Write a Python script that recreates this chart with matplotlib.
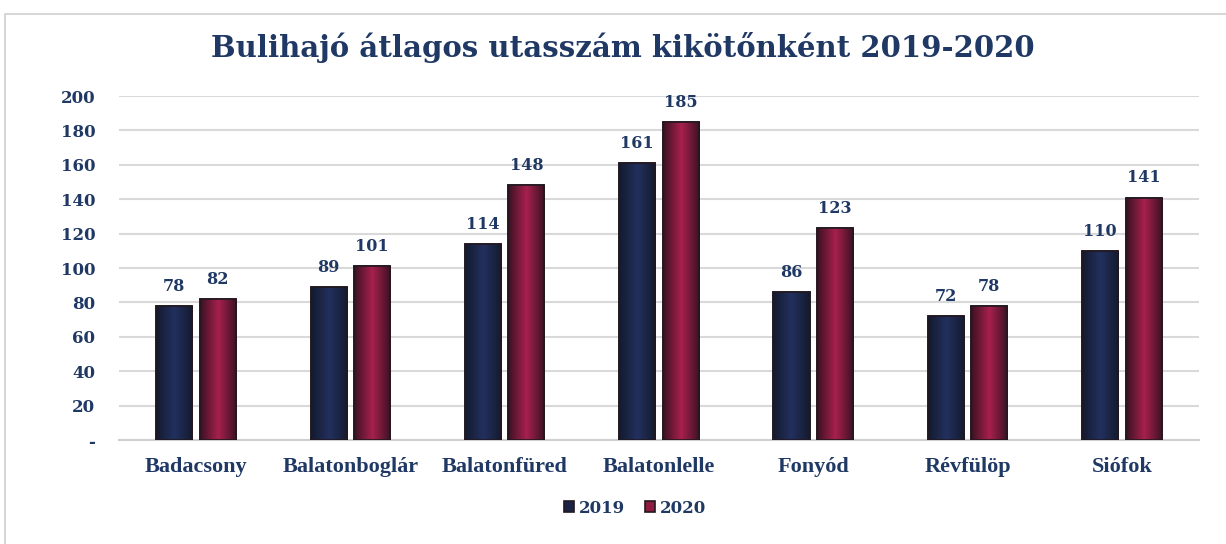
import matplotlib
matplotlib.use("Agg")
import matplotlib.pyplot as plt
import numpy as np
from matplotlib.patches import Rectangle
from matplotlib.colors import LinearSegmentedColormap

categories = ["Badacsony", "Balatonboglár", "Balatonfüred", "Balatonlelle", "Fonyód", "Révfülöp", "Siófok"]
v2019 = [78, 89, 114, 161, 86, 72, 110]
v2020 = [82, 101, 148, 185, 123, 78, 141]
series_names = ["2019", "2020"]
yticks = [0, 20, 40, 60, 80, 100, 120, 140, 160, 180, 200]
ytick_labels = ["-", "20", "40", "60", "80", "100", "120", "140", "160", "180", "200"]

navy = "#1f3864"
c2019 = "#1a2444"
c2020 = "#8e1a3e"
edge = "#221820"

fig = plt.figure(figsize=(12.26, 5.44), dpi=100)
fig.patch.set_facecolor("white")
fig.add_artist(Rectangle((0.004, -0.01), 1.0, 0.985, transform=fig.transFigure,
                         fill=False, edgecolor="#d0d0d0", linewidth=1.2))

ax = fig.add_axes([0.097, 0.191, 0.881, 0.6325])
x = np.arange(len(categories))
w = 0.234
off = 0.141
b1 = ax.bar(x - off, v2019, w, color=c2019, edgecolor=edge, linewidth=1.2, label=series_names[0], zorder=3)
b2 = ax.bar(x + off, v2020, w, color=c2020, edgecolor=edge, linewidth=1.2, label=series_names[1], zorder=3)

cm1 = LinearSegmentedColormap.from_list("g1", ["#141a2e", "#22305e", "#141a2e"])
cm2 = LinearSegmentedColormap.from_list("g2", ["#3a1222", "#a8204d", "#3a1222"])
grad = np.linspace(0, 1, 64).reshape(1, -1)
for rects, cm in ((b1, cm1), (b2, cm2)):
    for r in rects:
        x0, y0, ww, hh = r.get_x(), r.get_y(), r.get_width(), r.get_height()
        im = ax.imshow(grad, cmap=cm, aspect="auto", extent=(x0, x0 + ww, y0, y0 + hh),
                       zorder=3.5, interpolation="bicubic")
        im.set_clip_path(r)
        ax.add_patch(Rectangle((x0, y0), ww, hh, fill=False, edgecolor=edge, linewidth=1.2, zorder=3.6))

fs = dict(family="DejaVu Serif", fontweight="bold", color=navy)
for rects, vals in ((b1, v2019), (b2, v2020)):
    for r, v in zip(rects, vals):
        ax.annotate(str(v), (r.get_x() + r.get_width() / 2, v), xytext=(0, 8),
                    textcoords="offset points", ha="center", va="bottom", fontsize=11.5, **fs)

ax.set_xlim(-0.5, len(categories) - 0.5)
ax.set_ylim(0, 200)
ax.set_yticks(yticks)
ax.set_yticklabels(ytick_labels)
ax.set_xticks(x)
ax.set_xticklabels(categories)
for lbl in ax.get_yticklabels():
    lbl.set_fontfamily("DejaVu Serif")
    lbl.set_fontweight("bold")
    lbl.set_color(navy)
    lbl.set_fontsize(12)
for lbl in ax.get_xticklabels():
    lbl.set_fontfamily("Liberation Serif")
    lbl.set_fontweight("bold")
    lbl.set_color(navy)
    lbl.set_fontsize(16)
ax.tick_params(axis="both", length=0)
ax.tick_params(axis="y", pad=17)
ax.tick_params(axis="x", pad=12)
ax.yaxis.grid(True, color="#d9d9d9", linewidth=1.5, zorder=0)
ax.set_axisbelow(True)
for s in ["top", "right", "left"]:
    ax.spines[s].set_visible(False)
ax.spines["bottom"].set_color("#d0d0d0")
ax.spines["bottom"].set_linewidth(1.5)

fig.text(0.508, 0.912, "Bulihajó átlagos utasszám kikötőnként 2019-2020", ha="center", va="center",
         fontsize=21, family="DejaVu Serif", fontweight="bold", color=navy)

leg = fig.legend(handles=[b1, b2], labels=series_names, loc="center", bbox_to_anchor=(0.518, 0.066),
                 ncol=2, frameon=False, handlelength=0.6, handleheight=0.6, handletextpad=0.3,
                 columnspacing=1.2, prop={"family": "DejaVu Serif", "weight": "bold", "size": 12})
for t in leg.get_texts():
    t.set_color(navy)

fig.savefig("out.png", dpi=100)
